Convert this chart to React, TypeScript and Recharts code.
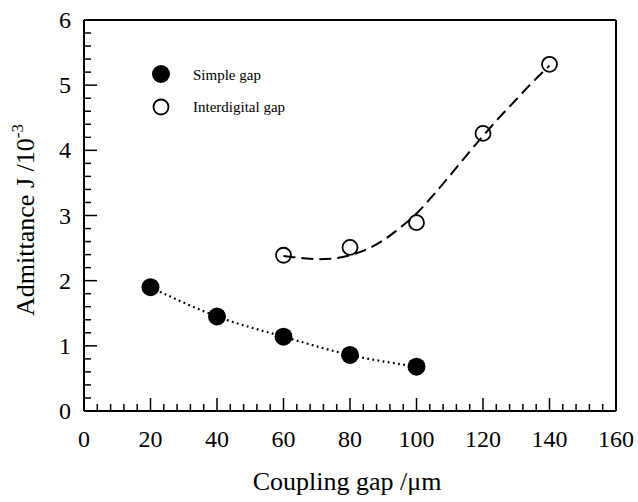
import React from 'react';
import { ComposedChart, Line, XAxis, YAxis } from 'recharts';

// ---- data ----
const simpleGapX = [20, 40, 60, 80, 100];
const simpleGapY = [1.9, 1.45, 1.14, 0.86, 0.68];

const interGapX = [60, 80, 100, 120, 140];
const interGapY = [2.39, 2.51, 2.89, 4.26, 5.32];

// dashed fitted curve through the interdigital points
const interFitX = [60, 65, 70, 75, 80, 85, 90, 95, 100, 105, 110, 115, 120, 125, 130, 135, 140];
const interFitY = [2.38, 2.35, 2.33, 2.34, 2.39, 2.48, 2.62, 2.81, 3.03, 3.31, 3.61, 3.92, 4.22, 4.51, 4.78, 5.05, 5.3];

const xMajorTicks = [0, 20, 40, 60, 80, 100, 120, 140, 160];
const yMajorTicks = [0, 1, 2, 3, 4, 5, 6];
const minorDivisions = 5;

const seriesNames = ['Simple gap', 'Interdigital gap'];
const xTitle = 'Coupling gap /\u03bcm';
const yTitleMain = 'Admittance J /10';
const yTitleSup = '-3';

// ---- derived tables ----
const toRows = (xs: number[], ys: number[]) => xs.map((x, i) => ({ x, y: ys[i] }));
const simpleData = toRows(simpleGapX, simpleGapY);
const interData = toRows(interGapX, interGapY);
const fitData = toRows(interFitX, interFitY);

const withMinor = (majors: number[]) => {
  const out: number[] = [];
  for (let i = 0; i < majors.length - 1; i++) {
    const a = majors[i];
    const b = majors[i + 1];
    for (let k = 0; k < minorDivisions; k++) out.push(+(a + ((b - a) * k) / minorDivisions).toFixed(6));
  }
  out.push(majors[majors.length - 1]);
  return out;
};
const xTicks = withMinor(xMajorTicks);
const yTicks = withMinor(yMajorTicks);
const isMajor = (v: number, majors: number[]) => majors.some((m) => Math.abs(m - v) < 1e-6);

const FONT = "'Liberation Serif', 'Times New Roman', serif";
const MAJOR = 13;
const MINOR = 7;
const TICK_W = 1.5;

const BottomTick = (props: any) => {
  const { x, y, payload } = props;
  const v = payload.value;
  const major = isMajor(v, xMajorTicks);
  return (
    <g>
      <line x1={x} x2={x} y1={y} y2={y - (major ? MAJOR : MINOR)} stroke="#000" strokeWidth={TICK_W} />
      {major && (
        <text x={x} y={y + 36} textAnchor="middle" fontFamily={FONT} fontSize={24} fill="#000">
          {v}
        </text>
      )}
    </g>
  );
};

const TopTick = (props: any) => {
  const { x, y, payload } = props;
  const major = isMajor(payload.value, xMajorTicks);
  return <line x1={x} x2={x} y1={y} y2={y + (major ? MAJOR : MINOR)} stroke="#000" strokeWidth={TICK_W} />;
};

const LeftTick = (props: any) => {
  const { x, y, payload } = props;
  const v = payload.value;
  const major = isMajor(v, yMajorTicks);
  return (
    <g>
      <line x1={x} x2={x + (major ? MAJOR : MINOR)} y1={y} y2={y} stroke="#000" strokeWidth={TICK_W} />
      {major && (
        <text x={x - 13} y={y + 8} textAnchor="end" fontFamily={FONT} fontSize={24} fill="#000">
          {v}
        </text>
      )}
    </g>
  );
};

const RightTick = (props: any) => {
  const { x, y, payload } = props;
  const major = isMajor(payload.value, yMajorTicks);
  return <line x1={x} x2={x - (major ? MAJOR : MINOR)} y1={y} y2={y} stroke="#000" strokeWidth={TICK_W} />;
};

const axisLine = { stroke: '#000', strokeWidth: 2 };

export default function App() {
  const W = 638;
  const H = 502;
  return (
    <div style={{ position: 'fixed', left: 0, top: 0, width: W, height: H, background: '#fff' }}>
      <ComposedChart width={W} height={H} margin={{ top: 10, right: 12, bottom: 51, left: 24 }}>
        <XAxis
          xAxisId="bottom"
          dataKey="x"
          type="number"
          domain={[0, 160]}
          ticks={xTicks}
          interval={0}
          orientation="bottom"
          height={40}
          tickSize={0}
          tickMargin={0}
          tickLine={false}
          axisLine={axisLine}
          tick={<BottomTick />}
        />
        <XAxis
          xAxisId="top"
          dataKey="x"
          type="number"
          domain={[0, 160]}
          ticks={xTicks}
          interval={0}
          orientation="top"
          height={10}
          tickSize={0}
          tickMargin={0}
          tickLine={false}
          axisLine={axisLine}
          tick={<TopTick />}
        />
        <YAxis
          yAxisId="left"
          type="number"
          domain={[0, 6]}
          ticks={yTicks}
          interval={0}
          orientation="left"
          width={60}
          tickSize={0}
          tickMargin={0}
          tickLine={false}
          axisLine={axisLine}
          tick={<LeftTick />}
        />
        <YAxis
          yAxisId="right"
          type="number"
          domain={[0, 6]}
          ticks={yTicks}
          interval={0}
          orientation="right"
          width={10}
          tickSize={0}
          tickMargin={0}
          tickLine={false}
          axisLine={axisLine}
          tick={<RightTick />}
        />
        <Line
          xAxisId="bottom"
          yAxisId="left"
          data={simpleData}
          dataKey="y"
          name={seriesNames[0]}
          type="monotone"
          stroke="#000"
          strokeWidth={2.2}
          strokeDasharray="1.8 3.4"
          dot={{ r: 9, fill: '#000', stroke: '#000', strokeWidth: 0, strokeDasharray: '' }}
          activeDot={false}
          isAnimationActive={false}
        />
        <Line
          xAxisId="bottom"
          yAxisId="left"
          data={fitData}
          dataKey="y"
          name={seriesNames[1] + ' fit'}
          type="monotone"
          stroke="#000"
          strokeWidth={2}
          strokeDasharray="12 6"
          dot={false}
          activeDot={false}
          isAnimationActive={false}
        />
        <Line
          xAxisId="bottom"
          yAxisId="left"
          data={interData}
          dataKey="y"
          name={seriesNames[1]}
          stroke="none"
          strokeWidth={0}
          dot={{ r: 7.5, fill: 'none', stroke: '#000', strokeWidth: 1.8 }}
          activeDot={false}
          isAnimationActive={false}
        />
      </ComposedChart>
      <svg
        width={W}
        height={H}
        style={{ position: 'absolute', left: 0, top: 0, pointerEvents: 'none' }}
      >
        <text x={347} y={490} textAnchor="middle" fontFamily={FONT} fontSize={26} fill="#000">
          {xTitle}
        </text>
        <text
          transform="translate(33.5,220) rotate(-90)"
          x={0}
          y={0}
          textAnchor="middle"
          fontFamily={FONT}
          fontSize={26}
          fill="#000"
        >
          {yTitleMain}
          <tspan dy={-11} fontSize={17}>
            {yTitleSup}
          </tspan>
        </text>
        <circle cx={161} cy={74} r={9} fill="#000" />
        <text x={193} y={80} fontFamily={FONT} fontSize={15} fill="#000">
          {seriesNames[0]}
        </text>
        <circle cx={161} cy={107} r={7.5} fill="none" stroke="#000" strokeWidth={1.8} />
        <text x={193} y={112} fontFamily={FONT} fontSize={15} fill="#000">
          {seriesNames[1]}
        </text>
      </svg>
    </div>
  );
}
